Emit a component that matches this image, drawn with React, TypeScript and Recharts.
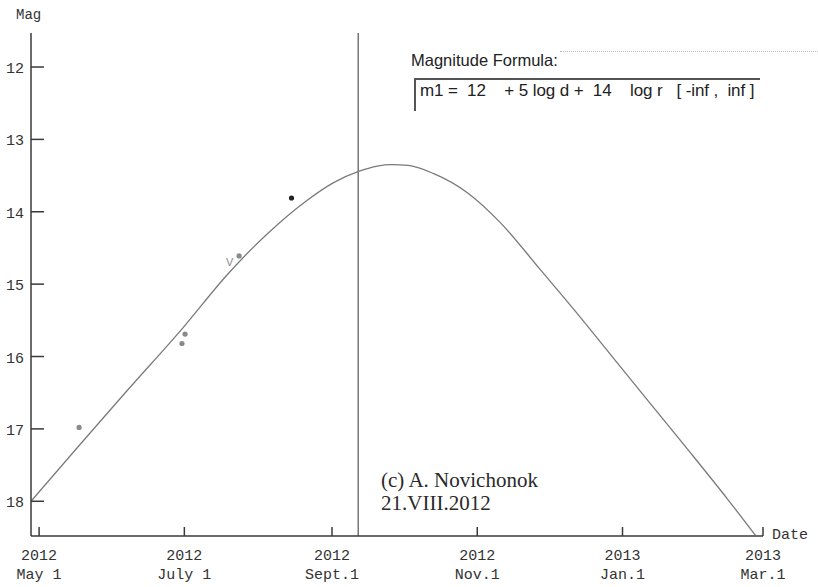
import {
  ComposedChart,
  Line,
  Scatter,
  XAxis,
  YAxis,
  ReferenceLine,
} from "recharts";

// days counted from 2012 May 1
const tickDays = [0, 61, 123, 184, 245, 304];
const tickYears = ["2012", "2012", "2012", "2012", "2013", "2013"];
const tickDates = ["May 1", "July 1", "Sept.1", "Nov.1", "Jan.1", "Mar.1"];
const magTicks = [12, 13, 14, 15, 16, 17, 18];

// predicted light curve (day, magnitude)
const curveDays = [-3.4, 16, 37, 60.5, 79, 96, 112.6, 123.5, 134.5, 142, 148, 155, 165.5, 180, 193.7, 210.5, 226.1, 239.9, 256.7, 272.3, 289.1, 300.8];
const curveMags = [18.0, 17.26, 16.47, 15.6, 14.87, 14.3, 13.84, 13.6, 13.44, 13.37, 13.35, 13.36, 13.47, 13.74, 14.15, 14.8, 15.41, 15.97, 16.65, 17.28, 17.97, 18.47];

// observations
const obsDays = [16.8, 61.3, 60, 84, 106];
const obsMags = [16.98, 15.69, 15.82, 14.61, 13.81];
const obsColors = ["#8a8a8a", "#8a8a8a", "#8a8a8a", "#8a8a8a", "#222"];
const obsNotes = ["", "", "", "V", ""];

const curve = curveDays.map((d, i) => ({ day: d, mag: curveMags[i] }));
const obs = obsDays.map((d, i) => ({
  day: d,
  mag: obsMags[i],
  color: obsColors[i],
  note: obsNotes[i],
}));

const mono = "'Liberation Mono', 'DejaVu Sans Mono', monospace";
const axisColor = "#3a3a3a";

function DateTick(props: any) {
  const { x, y, index } = props;
  return (
    <g>
      <line x1={x} y1={y} x2={x} y2={y - 9} stroke={axisColor} strokeWidth={1.5} />
      <text x={x} y={y + 24} textAnchor="middle" fontFamily={mono} fontSize={15} fill="#333">
        {tickYears[index]}
      </text>
      <text x={x} y={y + 43} textAnchor="middle" fontFamily={mono} fontSize={15} fill="#333">
        {tickDates[index]}
      </text>
    </g>
  );
}

function MagTick(props: any) {
  const { x, y, payload } = props;
  return (
    <g>
      <line x1={x} y1={y} x2={x + 13} y2={y} stroke={axisColor} strokeWidth={1.5} />
      <text x={x - 7} y={y + 6} textAnchor="end" fontFamily={mono} fontSize={15} fill="#333">
        {payload.value}
      </text>
    </g>
  );
}

function ObsDot(props: any) {
  const { cx, cy, payload } = props;
  return (
    <g>
      <circle cx={cx} cy={cy} r={2.6} fill={payload.color} />
      {payload.note ? (
        <text x={cx - 13} y={cy + 10} fontFamily="'Liberation Sans', sans-serif" fontSize={11} fill="#888">
          {payload.note}
        </text>
      ) : null}
    </g>
  );
}

export default function App() {
  return (
    <div style={{ position: "absolute", left: 0, top: 0, width: 818, height: 587, background: "#fff", overflow: "hidden" }}>
      <ComposedChart width={818} height={587} margin={{ top: 33, right: 55, left: 0, bottom: 0 }}>
        <XAxis
          type="number"
          dataKey="day"
          domain={[-3.4, 304]}
          ticks={tickDays}
          allowDataOverflow
          height={51}
          tickSize={0}
          tickMargin={0}
          tickLine={false}
          axisLine={{ stroke: axisColor, strokeWidth: 1.5 }}
          tick={<DateTick />}
        />
        <YAxis
          type="number"
          dataKey="mag"
          domain={[11.53, 18.48]}
          ticks={magTicks}
          reversed
          allowDataOverflow
          width={31}
          tickSize={0}
          tickMargin={0}
          tickLine={false}
          axisLine={{ stroke: axisColor, strokeWidth: 1.5 }}
          tick={<MagTick />}
        />
        <ReferenceLine x={134} stroke="#555" strokeWidth={1.2} />
        <Line
          data={curve}
          dataKey="mag"
          type="monotone"
          stroke="#7a7a7a"
          strokeWidth={1.3}
          dot={false}
          isAnimationActive={false}
        />
        <Scatter data={obs} dataKey="mag" shape={<ObsDot />} isAnimationActive={false} />
      </ComposedChart>

      <div style={{ position: "absolute", left: 16, top: 7, fontFamily: mono, fontSize: 14, color: "#333" }}>Mag</div>
      <div style={{ position: "absolute", left: 772, top: 527, fontFamily: mono, fontSize: 15, color: "#333" }}>Date</div>

      <div style={{ position: "absolute", left: 411, top: 51, fontFamily: "'Liberation Sans', Arial, sans-serif", fontSize: 16.5, lineHeight: "18px", color: "#222" }}>
        Magnitude Formula:
      </div>
      <div style={{ position: "absolute", left: 560, top: 51, width: 258, borderTop: "1px dotted #bbb" }} />
      <div style={{ position: "absolute", left: 414, top: 78, width: 344, height: 31, borderTop: "2px solid #555", borderLeft: "2px solid #555" }} />
      <div style={{ position: "absolute", left: 420, top: 81, fontFamily: "'Liberation Sans', Arial, sans-serif", fontSize: 17, lineHeight: "20px", color: "#222", whiteSpace: "pre", letterSpacing: -0.1 }}>
        {"m1 =  12    + 5 log d +  14    log r   [ -inf ,  inf ]"}
      </div>

      <div style={{ position: "absolute", left: 381, top: 469, fontFamily: "'Liberation Serif', 'Times New Roman', serif", fontSize: 21, lineHeight: "23px", color: "#2a2a2a" }}>
        (c) A. Novichonok
        <br />
        21.VIII.2012
      </div>
    </div>
  );
}
